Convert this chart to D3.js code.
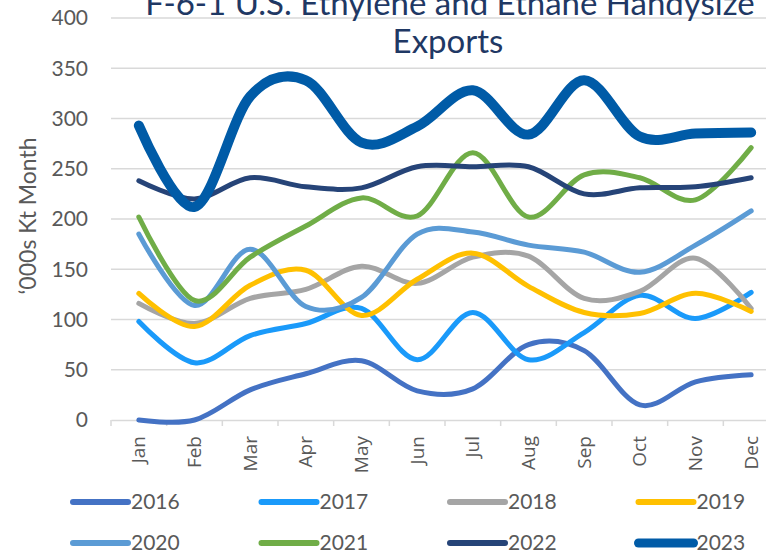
<html lang="en">

<head>
  <meta charset="utf-8">
  <title>U.S. Ethylene and Ethane Handysize Exports</title>
  <script type="text/javascript" src="https://d3js.org/d3.v7.min.js"></script>
  <style>
    body { margin: 0; background: #fff; }
    text { font-family: Lato, "Open Sans", sans-serif; }
  </style>
</head>

<body>
  <svg width="766" height="556"></svg>
  <script>
    const months = ["Jan", "Feb", "Mar", "Apr", "May", "Jun", "Jul", "Aug", "Sep", "Oct", "Nov", "Dec"];
    const years = ["2016", "2017", "2018", "2019", "2020", "2021", "2022", "2023"];
    const yTicks = [0, 50, 100, 150, 200, 250, 300, 350, 400];

    const v2016 = [0, 0, 30, 46, 59, 29, 31, 75, 69, 15, 38, 45];
    const v2017 = [98, 57, 84, 96, 111, 60, 107, 60, 87, 124, 101, 127];
    const v2018 = [116, 96, 121, 130, 153, 136, 162, 163, 121, 128, 161, 111];
    const v2019 = [126, 93, 134, 149, 104, 140, 166, 133, 107, 106, 126, 108];
    const v2020 = [185, 114, 170, 113, 122, 185, 187, 174, 167, 147, 174, 208];
    const v2021 = [202, 119, 162, 193, 221, 203, 266, 202, 244, 241, 219, 271];
    const v2022 = [238, 220, 241, 232, 231, 252, 252, 252, 225, 231, 232, 241];
    const v2023 = [293, 212, 322, 338, 276, 292, 328, 284, 338, 282, 285, 286];

    const seriesValues = [v2016, v2017, v2018, v2019, v2020, v2021, v2022, v2023];
    const colors = ["#4472C4", "#1A9AFA", "#A5A5A5", "#FFC000", "#5B9BD5", "#70AD47", "#264478", "#005BA7"];
    const widths = [5, 5, 5, 5, 5, 5, 5, 10];

    const svg = d3.select("svg");

    const x = d3.scaleBand().domain(months).range([111, 779]);
    const y = d3.scaleLinear().domain([0, 400]).range([420, 18]);

    // gridlines
    svg.append("g")
      .selectAll("line")
      .data(yTicks.filter(d => d > 0))
      .enter()
      .append("line")
      .attr("x1", 111).attr("x2", 779)
      .attr("y1", d => y(d)).attr("y2", d => y(d))
      .attr("stroke", "#d9d9d9")
      .attr("stroke-width", 1.5);

    // x axis
    const xAxis = svg.append("g")
      .attr("transform", "translate(0," + y(0) + ")")
      .call(d3.axisBottom(x).tickSize(0).tickPadding(0));
    xAxis.select(".domain").attr("stroke", "#d9d9d9").attr("stroke-width", 1.5);
    xAxis.selectAll(".tick text")
      .attr("transform", "rotate(-90)")
      .attr("x", -16).attr("y", 0).attr("dy", "0.35em")
      .attr("text-anchor", "end")
      .attr("fill", "#595959")
      .style("font-family", "'Open Sans', sans-serif")
      .style("font-size", "19px");

    // category boundary ticks
    svg.append("g")
      .selectAll("line")
      .data(months)
      .enter()
      .append("line")
      .attr("x1", d => x(d)).attr("x2", d => x(d))
      .attr("y1", y(0)).attr("y2", y(0) + 6)
      .attr("stroke", "#d9d9d9")
      .attr("stroke-width", 1.5);

    // y axis labels
    svg.append("g")
      .selectAll("text")
      .data(yTicks)
      .enter()
      .append("text")
      .attr("x", 88)
      .attr("y", d => y(d))
      .attr("dy", "0.35em")
      .attr("text-anchor", "end")
      .attr("fill", "#595959")
      .style("font-size", "21px")
      .text(d => d);

    svg.append("text")
      .attr("transform", "translate(28,216) rotate(-90)")
      .attr("dy", "0.35em")
      .attr("text-anchor", "middle")
      .attr("fill", "#595959")
      .style("font-size", "23px")
      .text("\u2018000s Kt Month");

    // title (top line runs off the top edge, as in the original)
    const title = svg.append("text")
      .attr("text-anchor", "middle")
      .attr("fill", "#1F3864")
      .style("font-size", "33px");
    title.append("tspan").attr("x", 450).attr("y", 15).text("F-6-1 U.S. Ethylene and Ethane Handysize");
    title.append("tspan").attr("x", 448).attr("y", 53).text("Exports");

    // lines
    const line = d3.line()
      .x((d, i) => x(months[i]) + x.bandwidth() / 2)
      .y(d => y(d))
      .curve(d3.curveCardinal.tension(0));

    svg.append("g")
      .selectAll("path")
      .data(seriesValues)
      .enter()
      .append("path")
      .attr("d", d => line(d))
      .attr("fill", "none")
      .attr("stroke", (d, i) => colors[i])
      .attr("stroke-width", (d, i) => widths[i])
      .attr("stroke-linecap", "round")
      .attr("stroke-linejoin", "round");

    // legend
    const legend = svg.append("g")
      .selectAll("g")
      .data(years)
      .enter()
      .append("g")
      .attr("transform", (d, i) => "translate(" + (73 + (i % 4) * 188.5) + "," + (502 + Math.floor(i / 4) * 41) + ")");

    legend.append("line")
      .attr("x1", 0).attr("x2", 55)
      .attr("stroke", (d, i) => colors[i])
      .attr("stroke-width", (d, i) => i === 7 ? 9 : 6)
      .attr("stroke-linecap", "round");

    legend.append("text")
      .attr("x", 58)
      .attr("dy", "0.35em")
      .attr("fill", "#595959")
      .style("font-size", "21px")
      .text(d => d);
  </script>
</body>

</html>
